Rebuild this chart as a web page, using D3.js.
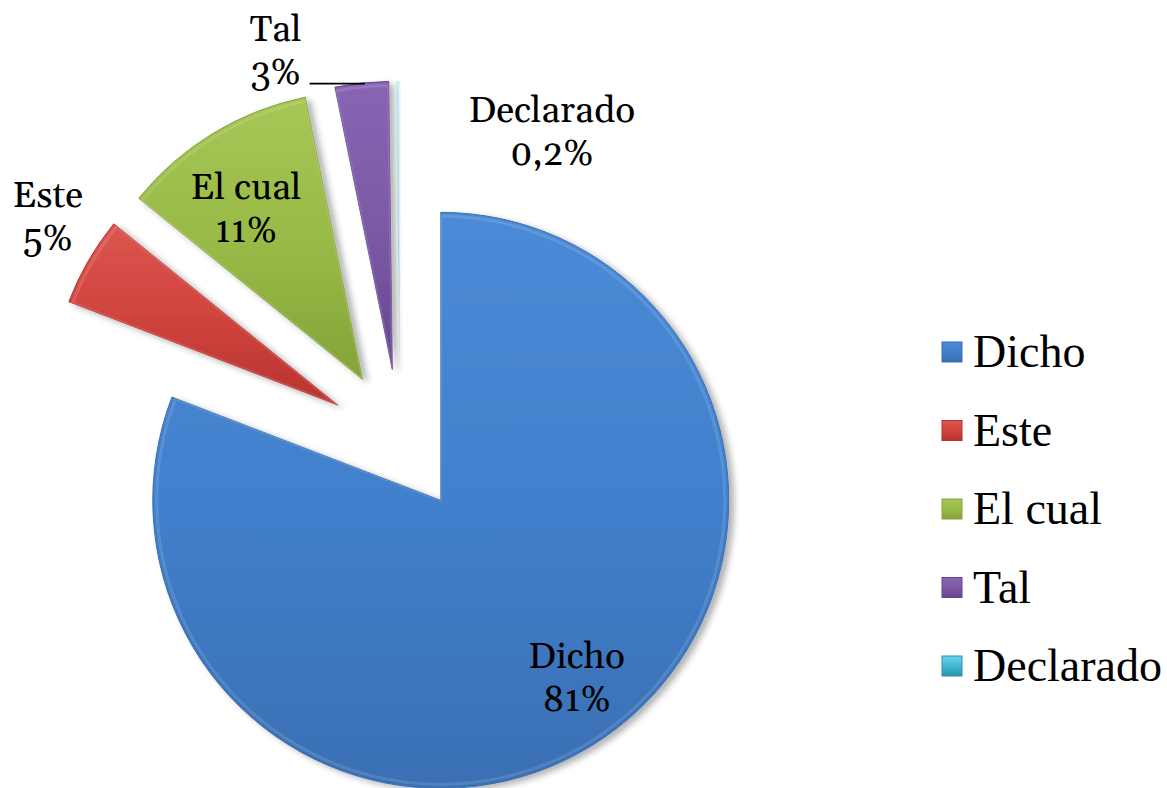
<!DOCTYPE html>
<html><head><meta charset="utf-8">
<script src="https://cdn.jsdelivr.net/npm/d3@7"></script>
<style>
html,body{margin:0;padding:0;background:#fff;}
svg{display:block;}
</style></head>
<body>
<svg id="chart" width="1167" height="788"></svg>
<script>
// ---- data ----
const categories = ["Dicho", "Este", "El cual", "Tal", "Declarado"];
const values = [81, 5, 11, 3, 0.2];
const valueLabels = ["81%", "5%", "11%", "3%", "0,2%"];

// ---- styling / layout ----
const colors = ["#4180cc", "#d0443e", "#9aba48", "#7d59a6", "#43b8d2"];
const darkColors = ["#3a6fb3", "#b8332f", "#84a338", "#644690", "#2a93ab"];
const lightColors = ["#4b8ad6", "#dc5650", "#a6c656", "#8865b2", "#6fd3e8"];
const labelFont = '"Gelasio", "Liberation Serif", serif';
const legendFont = '"Liberation Serif", "Tinos", serif';
const cx = 400, cy = 441, R = 288, explode = 72;
const labelPolar = [
  {k: 0.775, da: -3},
  {k: 1.20, da: 3},
  {k: 0.72, da: -3},
  {k: 1.18, da: -14},
  {k: 0.98, da: 33}
];
const lineGap = 43;

const svg = d3.select("#chart");
const defs = svg.append("defs");

const f = defs.append("filter").attr("id", "shadow").attr("x", "-20%").attr("y", "-20%").attr("width", "140%").attr("height", "140%");
f.append("feGaussianBlur").attr("in", "SourceAlpha").attr("stdDeviation", 3).attr("result", "b");
f.append("feOffset").attr("in", "b").attr("dx", 5).attr("dy", 3).attr("result", "o");
f.append("feComponentTransfer").attr("in", "o").attr("result", "o2")
  .append("feFuncA").attr("type", "linear").attr("slope", 0.3);
const fm = f.append("feMerge");
fm.append("feMergeNode").attr("in", "o2");
fm.append("feMergeNode").attr("in", "SourceGraphic");

categories.forEach((c, i) => {
  const g = defs.append("linearGradient").attr("id", "grad" + i)
    .attr("x1", "0").attr("y1", "0").attr("x2", "0").attr("y2", "1");
  g.append("stop").attr("offset", "0%").attr("stop-color", lightColors[i]);
  g.append("stop").attr("offset", "50%").attr("stop-color", colors[i]);
  g.append("stop").attr("offset", "100%").attr("stop-color", darkColors[i]);
});

const pie = d3.pie().sort(null).value(d => d)(values);
const arc = d3.arc().innerRadius(0).outerRadius(R);
const arcInner = d3.arc().innerRadius(0).outerRadius(R - 4);

function offset(d, dist) {
  const m = (d.startAngle + d.endAngle) / 2;
  return [dist * Math.sin(m), -dist * Math.cos(m)];
}

const slices = svg.append("g").attr("transform", `translate(${cx},${cy})`);
const sg = slices.selectAll("g.slice").data(pie).join("g")
  .attr("class", "slice")
  .attr("transform", d => { const o = offset(d, explode); return `translate(${o[0]},${o[1]})`; });

sg.append("path").attr("d", arc)
  .attr("fill", (d, i) => `url(#grad${i})`)
  .attr("stroke", (d, i) => i === 4 ? "none" : darkColors[i])
  .attr("stroke-width", 1)
  .attr("opacity", (d, i) => i === 4 ? 0.35 : 1)
  .attr("filter", "url(#shadow)");
sg.filter((d, i) => i !== 4).append("path").attr("d", arcInner)
  .attr("fill", "none")
  .attr("stroke", "rgba(255,255,255,0.12)")
  .attr("stroke-width", 3);

// labels (two separate text lines each)
const lbl = svg.append("g");
const labelPos = [];
pie.forEach((d, i) => {
  const o = offset(d, explode);
  const m = (d.startAngle + d.endAngle) / 2 + labelPolar[i].da * Math.PI / 180;
  const r = R * labelPolar[i].k;
  const x = cx + o[0] + r * Math.sin(m);
  const y = cy + o[1] - r * Math.cos(m);
  labelPos.push([x, y]);
  [categories[i], valueLabels[i]].forEach((s, j) => {
    lbl.append("text").attr("text-anchor", "middle")
      .attr("x", x).attr("y", y - lineGap / 2 + 12 + j * lineGap)
      .style("font-family", labelFont).style("font-size", "37px").style("fill", "#000")
      .text(s);
  });
});

// leader line for Tal
{
  const i = 3, d = pie[i];
  const o = offset(d, explode);
  const a = d.startAngle + 0.15 * (d.endAngle - d.startAngle);
  const ex = cx + o[0] + R * Math.sin(a), ey = cy + o[1] - R * Math.cos(a);
  svg.append("line")
    .attr("x1", labelPos[i][0] + 34).attr("y1", ey - 2)
    .attr("x2", ex + 22).attr("y2", ey - 2)
    .attr("stroke", "#000").attr("stroke-width", 1.8);
}

// legend
const legend = svg.append("g").attr("transform", "translate(942,352)");
const li = legend.selectAll("g").data(categories).join("g")
  .attr("transform", (d, i) => `translate(0,${i * 78.5})`);
li.append("rect").attr("x", 0).attr("y", -10).attr("width", 20).attr("height", 20)
  .attr("fill", (d, i) => `url(#grad${i})`)
  .attr("stroke", (d, i) => darkColors[i]).attr("stroke-width", 1);
li.append("text").attr("x", 31).attr("y", 15)
  .style("font-family", legendFont).style("font-size", "46px").style("fill", "#000")
  .text(d => d);
</script>
</body></html>
